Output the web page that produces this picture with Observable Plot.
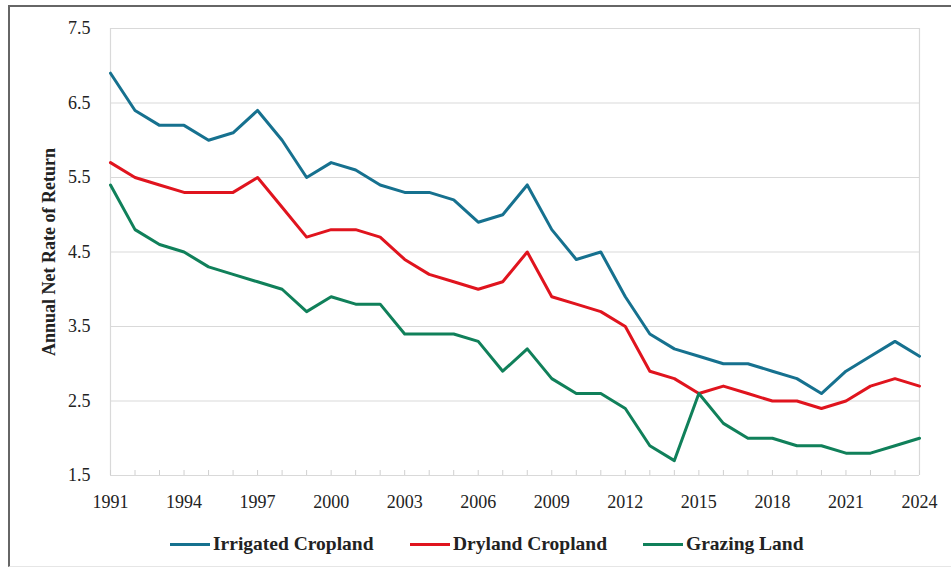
<!DOCTYPE html>
<html>
<head>
<meta charset="utf-8">
<script src="https://cdn.jsdelivr.net/npm/d3@7"></script>
<script src="https://cdn.jsdelivr.net/npm/@observablehq/plot@0.6"></script>
<style>
  html, body { margin: 0; padding: 0; background: #fff; width: 951px; height: 573px; overflow: hidden; }
  #frame { position: absolute; left: 8px; top: 5px; width: 960px; height: 559px; border-top: 2px solid #666; border-left: 2px solid #666; border-bottom: 1px solid #e6e6e6; }
  #chart { position: absolute; left: 0; top: 0; }
  #legend { position: absolute; left: 0; top: 530px; width: 951px; height: 28px; font-family: "Liberation Serif", "Times New Roman", serif; font-weight: bold; font-size: 19.5px; color: #222; }
  .item { position: absolute; top: 0; display: flex; align-items: center; height: 28px; }
  .swatch { width: 40px; height: 3px; margin-right: 3px; }
</style>
</head>
<body>
<div id="frame"></div>
<div id="chart"></div>
<div id="legend"></div>
<script>
const years = d3.range(1991, 2025);
const irrigated = [6.9, 6.4, 6.2, 6.2, 6.0, 6.1, 6.4, 6.0, 5.5, 5.7, 5.6, 5.4, 5.3, 5.3, 5.2, 4.9, 5.0, 5.4, 4.8, 4.4, 4.5, 3.9, 3.4, 3.2, 3.1, 3.0, 3.0, 2.9, 2.8, 2.6, 2.9, 3.1, 3.3, 3.1];
const dryland   = [5.7, 5.5, 5.4, 5.3, 5.3, 5.3, 5.5, 5.1, 4.7, 4.8, 4.8, 4.7, 4.4, 4.2, 4.1, 4.0, 4.1, 4.5, 3.9, 3.8, 3.7, 3.5, 2.9, 2.8, 2.6, 2.7, 2.6, 2.5, 2.5, 2.4, 2.5, 2.7, 2.8, 2.7];
const grazing   = [5.4, 4.8, 4.6, 4.5, 4.3, 4.2, 4.1, 4.0, 3.7, 3.9, 3.8, 3.8, 3.4, 3.4, 3.4, 3.3, 2.9, 3.2, 2.8, 2.6, 2.6, 2.4, 1.9, 1.7, 2.6, 2.2, 2.0, 2.0, 1.9, 1.9, 1.8, 1.8, 1.9, 2.0];
const seriesNames = ["Irrigated Cropland", "Dryland Cropland", "Grazing Land"];
const seriesColors = ["#16718f", "#e0141e", "#10805a"];
const yTicks = [1.5, 2.5, 3.5, 4.5, 5.5, 6.5, 7.5];
const xTicks = [1991, 1994, 1997, 2000, 2003, 2006, 2009, 2012, 2015, 2018, 2021, 2024];
const yLabel = "Annual Net Rate of Return";

const seriesValues = [irrigated, dryland, grazing];
const data = seriesNames.flatMap((name, i) => years.map((year, j) => ({series: name, year, value: seriesValues[i][j]})));

const chart = Plot.plot({
  width: 951,
  height: 530,
  marginTop: 28,
  marginBottom: 55,
  marginLeft: 110,
  marginRight: 32,
  style: { fontFamily: "'Liberation Serif', 'Times New Roman', serif", fontSize: "18px", color: "#222", background: "transparent" },
  x: { domain: [1991, 2024] },
  y: { domain: [1.5, 7.5] },
  color: { domain: seriesNames, range: seriesColors },
  marks: [
    Plot.gridY(yTicks, { stroke: "#d9d9d9", strokeOpacity: 1, strokeWidth: 1.2 }),
    Plot.ruleX([1991, 2024], { stroke: "#d9d9d9", strokeWidth: 1.2 }),
    Plot.axisX(years, { tickSize: -5, stroke: "#d0d0d0", text: null, label: null }),
    Plot.axisX(xTicks, { tickSize: 0, tickPadding: 20, tickFormat: d => String(d), label: null, fontSize: 18 }),
    Plot.axisY(yTicks, { tickSize: 0, tickPadding: 20, tickFormat: d => d.toFixed(1), label: null, fontSize: 18 }),
    Plot.text([yLabel], { frameAnchor: "left", textAnchor: "middle", lineAnchor: "middle", rotate: -90, dx: -61, fontWeight: "bold", fontSize: 18, fill: "#222" }),
    Plot.line(data, { x: "year", y: "value", z: "series", stroke: "series", strokeWidth: 3, strokeLinejoin: "round" })
  ]
});
document.getElementById("chart").appendChild(chart);

const legendPos = [170, 410, 643];
const legend = document.getElementById("legend");
seriesNames.forEach((name, i) => {
  const item = document.createElement("div");
  item.className = "item";
  item.style.left = legendPos[i] + "px";
  const sw = document.createElement("span");
  sw.className = "swatch";
  sw.style.background = seriesColors[i];
  const t = document.createElement("span");
  t.textContent = name;
  item.appendChild(sw);
  item.appendChild(t);
  legend.appendChild(item);
});
</script>
</body>
</html>
